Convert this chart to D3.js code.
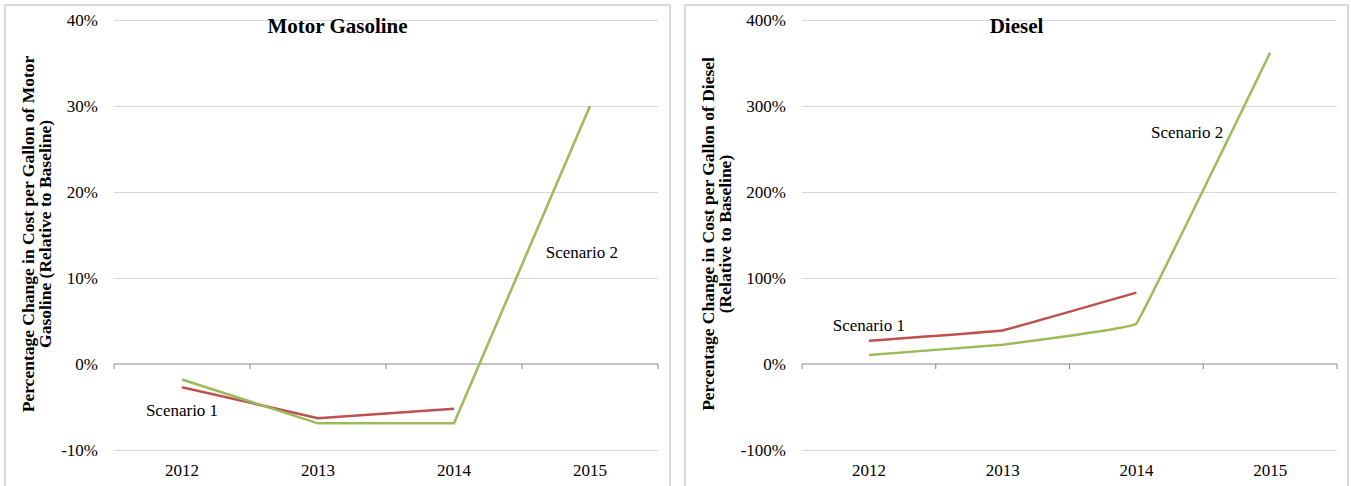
<!DOCTYPE html>
<html>
<head>
<meta charset="utf-8">
<script src="https://cdn.jsdelivr.net/npm/d3@7"></script>
<style>
  html, body { margin: 0; padding: 0; background: #fff; }
  svg { display: block; font-family: "Liberation Serif", "Times New Roman", serif; }
</style>
</head>
<body>
<svg id="chart" width="1351" height="486"></svg>
<script>
// data (percent)
var years = ["2012", "2013", "2014", "2015"];

var gasScenario1 = [-2.7, -6.3, -5.2, null];
var gasScenario2 = [-1.8, -6.9, -6.9, 30.0];
var gasTicks = [-10, 0, 10, 20, 30, 40];

var dieselScenario1 = [27, 39, 83, null];
var dieselScenario2 = [10.5, 22.5, 47, 362];
var dieselTicks = [-100, 0, 100, 200, 300, 400];

// label anchors: category index (fractional) and value
var gasLabels = [
  { text: "Scenario 1", at: 0, val: -6.1 },
  { text: "Scenario 2", at: 2.94, val: 12.3 }
];
var dieselLabels = [
  { text: "Scenario 1", at: 0, val: 38 },
  { text: "Scenario 2", at: 2.38, val: 263 }
];

var red = "#c0504d", green = "#9bbb59";
var svg = d3.select("#chart");

function drawPanel(p) {
  var g = svg.append("g");

  // panel frame
  g.append("rect")
    .attr("x", p.left).attr("y", 5)
    .attr("width", p.right - p.left).attr("height", 520)
    .attr("fill", "#fff")
    .attr("stroke", "#d9d9d9")
    .attr("stroke-width", 2);

  var x = d3.scaleBand().domain(years).range([p.x0, p.x1]);
  var bw = x.bandwidth();
  var xi = d3.scaleLinear().domain([-0.5, years.length - 0.5]).range([p.x0, p.x1]);
  var y = d3.scaleLinear().domain(d3.extent(p.ticks)).range([450, 20]);

  // gridlines + y labels
  var ya = g.append("g")
    .attr("transform", "translate(" + p.x0 + ",0)")
    .call(d3.axisLeft(y).tickValues(p.ticks).tickSize(-(p.x1 - p.x0)).tickPadding(16)
      .tickFormat(function(d) { return d + "%"; }));
  ya.select(".domain").remove();
  ya.selectAll(".tick line").attr("stroke", function(d) { return d === 0 ? "none" : "#d9d9d9"; });
  ya.selectAll(".tick text").attr("font-size", 17).attr("fill", "#000")
    .attr("font-family", "Liberation Serif, Times New Roman, serif");

  // category labels
  var xa = g.append("g")
    .attr("transform", "translate(0," + y(d3.min(p.ticks)) + ")")
    .call(d3.axisBottom(x).tickSize(0).tickPadding(14));
  xa.select(".domain").remove();
  xa.selectAll(".tick text").attr("font-size", 17).attr("fill", "#000")
    .attr("font-family", "Liberation Serif, Times New Roman, serif");

  // zero axis with tick marks between categories
  g.append("line")
    .attr("x1", p.x0).attr("x2", p.x1)
    .attr("y1", y(0)).attr("y2", y(0))
    .attr("stroke", "#868686").attr("stroke-width", 1);
  var edges = years.map(function(c) { return x(c); }).concat([p.x1]);
  g.selectAll(".xtick").data(edges).enter().append("line")
    .attr("x1", function(d) { return d; }).attr("x2", function(d) { return d; })
    .attr("y1", y(0)).attr("y2", y(0) + 5)
    .attr("stroke", "#868686").attr("stroke-width", 1);

  // series
  var line = d3.line()
    .defined(function(d) { return d != null; })
    .x(function(d, i) { return x(years[i]) + bw / 2; })
    .y(function(d) { return y(d); })
    .curve(p.curve);

  [[p.s1, red], [p.s2, green]].forEach(function(s) {
    g.append("path")
      .attr("d", line(s[0]))
      .attr("fill", "none")
      .attr("stroke", s[1])
      .attr("stroke-width", 2.5);
  });

  // series labels
  g.selectAll(".lbl").data(p.labels).enter().append("text")
    .attr("x", function(d) { return xi(d.at); })
    .attr("y", function(d) { return y(d.val); })
    .attr("text-anchor", "middle")
    .attr("font-size", 17)
    .text(function(d) { return d.text; });

  // title
  g.append("text")
    .attr("x", (p.left + p.right) / 2).attr("y", 33)
    .attr("text-anchor", "middle")
    .attr("font-size", 21).attr("font-weight", "bold")
    .text(p.title);

  // y axis title, two lines
  var yt = g.append("text")
    .attr("transform", "translate(" + (p.left + 29) + ",234) rotate(-90)")
    .attr("text-anchor", "middle")
    .attr("font-size", 17.5).attr("font-weight", "bold");
  yt.append("tspan").attr("x", 0).attr("y", 0).text(p.ytitle[0]);
  yt.append("tspan").attr("x", 0).attr("y", 17).text(p.ytitle[1]);
}

drawPanel({
  left: 5, right: 670, x0: 114, x1: 658,
  ticks: gasTicks, s1: gasScenario1, s2: gasScenario2,
  labels: gasLabels, curve: d3.curveLinear,
  title: "Motor Gasoline",
  ytitle: ["Percentage Change in Cost per Gallon of Motor", "Gasoline (Relative to Baseline)"]
});

drawPanel({
  left: 685, right: 1348, x0: 802, x1: 1337,
  ticks: dieselTicks, s1: dieselScenario1, s2: dieselScenario2,
  labels: dieselLabels, curve: d3.curveCardinal.tension(0.9),
  title: "Diesel",
  ytitle: ["Percentage  Change in Cost per Gallon of Diesel", "(Relative to Baseline)"]
});
</script>
</body>
</html>
